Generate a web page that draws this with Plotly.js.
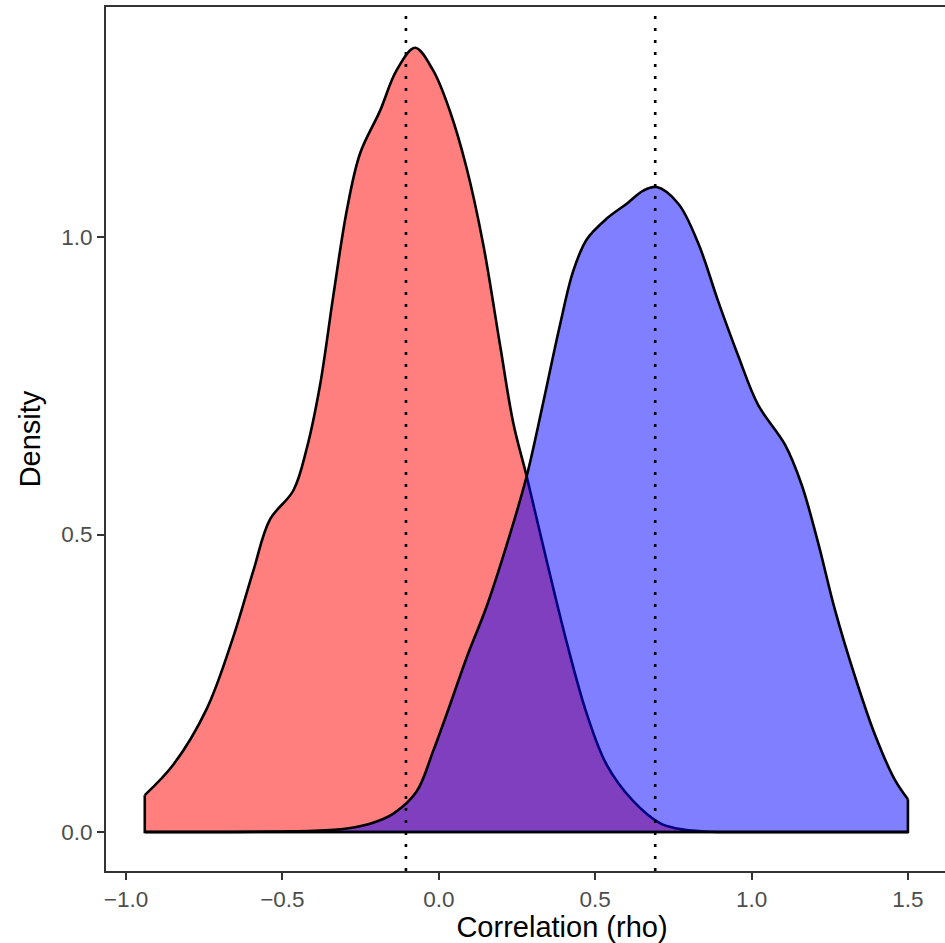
<!DOCTYPE html>
<html>
<head>
<meta charset="utf-8">
<script src="https://cdn.plot.ly/plotly-3.0.1.min.js"></script>
<style>
  html, body { margin: 0; padding: 0; overflow: hidden; background: #ffffff; }
  #chart { width: 1020px; height: 943px; }
</style>
</head>
<body>
<div id="chart"></div>
<script>
// ---- data ----
const redX = [-0.94, -0.849, -0.742, -0.657, -0.593, -0.540, -0.465, -0.422, -0.380, -0.337, -0.294, -0.252, -0.188, -0.135, -0.076, -0.018, 0.036, 0.089, 0.142, 0.196, 0.238, 0.281, 0.345, 0.409, 0.473, 0.537, 0.622, 0.707, 0.761, 0.85, 1.0, 1.5];
const redY = [0.062, 0.113, 0.207, 0.328, 0.439, 0.525, 0.574, 0.645, 0.750, 0.902, 1.045, 1.140, 1.212, 1.280, 1.318, 1.280, 1.211, 1.116, 0.988, 0.818, 0.688, 0.598, 0.456, 0.319, 0.199, 0.113, 0.052, 0.015, 0.006, 0.001, 0, 0];

const blueX = [-0.94, -0.7, -0.5, -0.4, -0.294, -0.22, -0.145, -0.071, -0.018, 0.036, 0.089, 0.153, 0.217, 0.281, 0.334, 0.387, 0.430, 0.473, 0.537, 0.601, 0.654, 0.697, 0.766, 0.830, 0.894, 0.957, 1.021, 1.107, 1.160, 1.213, 1.267, 1.331, 1.395, 1.458, 1.5];
const blueY = [0, 0, 0.001, 0.002, 0.006, 0.014, 0.031, 0.068, 0.136, 0.214, 0.293, 0.379, 0.482, 0.598, 0.722, 0.851, 0.943, 0.996, 1.031, 1.056, 1.078, 1.084, 1.056, 0.989, 0.891, 0.801, 0.718, 0.651, 0.584, 0.486, 0.373, 0.261, 0.163, 0.088, 0.055];

const meanLines = [-0.105, 0.692];

const xTickVals = [-1.0, -0.5, 0.0, 0.5, 1.0, 1.5];
const xTickText = ["\u22121.0", "\u22120.5", "0.0", "0.5", "1.0", "1.5"];
const yTickVals = [0.0, 0.5, 1.0];
const yTickText = ["0.0", "0.5", "1.0"];

const xTitle = "Correlation (rho)";
const yTitle = "Density";

// ---- traces ----
const FONT = "Liberation Sans, Arial, Helvetica, sans-serif";
const LW = 2.6;
const lastR = redX.length - 1;
const lastB = blueX.length - 1;

const traces = [
  { // red density fill + curve
    x: redX, y: redY, type: "scatter", mode: "lines",
    fill: "tozeroy", fillcolor: "rgba(255,0,0,0.5)",
    line: { color: "#000000", width: LW, shape: "spline", smoothing: 1 },
    hoverinfo: "skip", showlegend: false
  },
  { // red polygon edges (left side and base)
    x: [redX[0], redX[0], redX[lastR]], y: [redY[0], 0, 0],
    type: "scatter", mode: "lines",
    line: { color: "#000000", width: LW },
    hoverinfo: "skip", showlegend: false
  },
  { // blue density fill + curve
    x: blueX, y: blueY, type: "scatter", mode: "lines",
    fill: "tozeroy", fillcolor: "rgba(0,0,255,0.5)",
    line: { color: "#000000", width: LW, shape: "spline", smoothing: 1 },
    hoverinfo: "skip", showlegend: false
  },
  { // blue polygon edges (base and right side)
    x: [blueX[0], blueX[lastB], blueX[lastB]], y: [0, 0, blueY[lastB]],
    type: "scatter", mode: "lines",
    line: { color: "#000000", width: LW },
    hoverinfo: "skip", showlegend: false
  }
];

const shapes = meanLines.map(v => ({
  type: "line", xref: "x", yref: "paper",
  x0: v, x1: v, y0: 0, y1: 1,
  line: { color: "#000000", width: 2.6, dash: "3px,9px" },
  layer: "above"
}));

const axisCommon = {
  showline: true, linecolor: "#333333", linewidth: 2,
  ticks: "outside", ticklen: 7, tickwidth: 2, tickcolor: "#333333",
  showgrid: false, zeroline: false,
  tickfont: { family: FONT, size: 22.5, color: "#4d4d4d" }
};

const layout = {
  width: 1020, height: 943,
  margin: { l: 106, r: 2, t: 7, b: 72 },
  paper_bgcolor: "#ffffff", plot_bgcolor: "#ffffff",
  font: { family: FONT },
  xaxis: Object.assign({}, axisCommon, {
    range: [-1.064, 1.852], mirror: true,
    tickmode: "array", tickvals: xTickVals, ticktext: xTickText,
    title: { text: xTitle, font: { family: FONT, size: 29, color: "#000000" }, standoff: 8 }
  }),
  yaxis: Object.assign({}, axisCommon, {
    range: [-0.0655, 1.3866], mirror: false,
    tickmode: "array", tickvals: yTickVals, ticktext: yTickText,
    title: { text: yTitle, font: { family: FONT, size: 29, color: "#000000" }, standoff: 12 }
  }),
  shapes: shapes,
  showlegend: false
};

Plotly.newPlot("chart", traces, layout, { displayModeBar: false, staticPlot: true });
</script>
</body>
</html>
